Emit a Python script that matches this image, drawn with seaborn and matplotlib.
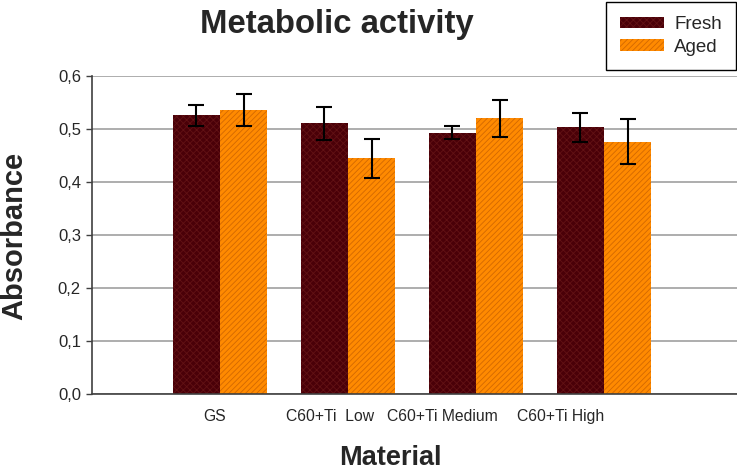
import matplotlib
matplotlib.use("Agg")
import matplotlib.pyplot as plt
import matplotlib.patches as mpatches
import seaborn as sns
import pandas as pd
import numpy as np

materials = ["GS", "C60+Ti  Low", "C60+Ti Medium", "C60+Ti High"]
conditions = ["Fresh", "Aged"]
fresh_vals = [0.526, 0.511, 0.493, 0.503]
aged_vals = [0.536, 0.445, 0.520, 0.476]
fresh_err = [0.020, 0.031, 0.012, 0.028]
aged_err = [0.030, 0.037, 0.035, 0.042]
yticks = [0.0, 0.1, 0.2, 0.3, 0.4, 0.5, 0.6]
label_offsets = [-0.04, -0.14, -0.26, -0.34]

sns.set_style("white")
plt.rcParams['font.family'] = ['Liberation Sans', 'DejaVu Sans']
plt.rcParams['hatch.linewidth'] = 0.6

df = pd.DataFrame({
    "Material": materials * 2,
    "Condition": ["Fresh"] * 4 + ["Aged"] * 4,
    "Absorbance": fresh_vals + aged_vals,
})

fig = plt.figure(figsize=(7.37, 4.71), dpi=100)
ax = fig.add_axes([92 / 737, 77 / 471, 645 / 737, 318 / 471])

colors = {"Fresh": "#4a0008", "Aged": "#ff8a00"}
sns.barplot(data=df, x="Material", y="Absorbance", hue="Condition",
            order=materials, hue_order=conditions, palette=colors,
            width=0.74, gap=0, ax=ax, legend=False, saturation=1,
            linewidth=0)

hatch_cfg = {"Fresh": ("xxxxx", "#621214"), "Aged": ("//////", "#d26800")}
errs = {"Fresh": fresh_err, "Aged": aged_err}
vals = {"Fresh": fresh_vals, "Aged": aged_vals}
for cont, cond in zip(ax.containers, conditions):
    xs = []
    for p in cont.patches:
        p.set_hatch(hatch_cfg[cond][0])
        p.set_edgecolor(hatch_cfg[cond][1])
        p.set_linewidth(0)
        xs.append(p.get_x() + p.get_width() / 2)
    ax.errorbar(xs, vals[cond], yerr=errs[cond], fmt="none", ecolor="black",
                elinewidth=1.5, capsize=5.5, capthick=1.5, zorder=5)

ax.set_xlim(-1, -1 + 645 / 128)
ax.set_ylim(0, 0.6)
ax.set_yticks(yticks)
ax.set_yticklabels([f"{t:.1f}".replace(".", ",") for t in yticks], fontsize=12)
ax.set_xticks([i + o for i, o in enumerate(label_offsets)])
ax.set_xticklabels(materials, fontsize=11.3)
ax.tick_params(axis="x", length=0, pad=11)
ax.tick_params(axis="y", length=4, width=1, color="#404040", direction="out", left=True, pad=4)
ax.yaxis.grid(True, color="#a0a0a0", linewidth=1.2)
ax.set_axisbelow(True)
for s in ["top", "right"]:
    ax.spines[s].set_visible(False)
for s in ["left", "bottom"]:
    ax.spines[s].set_color("#404040")
    ax.spines[s].set_linewidth(1.2)

ax.set_xlabel("")
ax.set_ylabel("")
fig.text(390 / 737, 1 - 458 / 471, "Material", fontsize=19.5, fontweight="bold",
         ha="center", va="center")
fig.text(14 / 737, 1 - 236 / 471, "Absorbance", fontsize=21, fontweight="bold",
         ha="center", va="center", rotation=90)
fig.text(337 / 737, 1 - 24 / 471, "Metabolic activity", fontsize=23.7, fontweight="bold",
         ha="center", va="center")

handles = [mpatches.Patch(facecolor=colors[c], edgecolor=hatch_cfg[c][1],
                          hatch=hatch_cfg[c][0], linewidth=0, label=c) for c in conditions]
leg = fig.legend(handles=handles, loc="upper right",
                 bbox_to_anchor=(736 / 737, 1 - 2 / 471),
                 fontsize=13.5, frameon=True, fancybox=False, edgecolor="black",
                 framealpha=1, handlelength=2.35, handleheight=0.6,
                 handletextpad=0.55, borderpad=0.75, labelspacing=0.3,
                 borderaxespad=0)
leg.get_frame().set_linewidth(1.0)

fig.savefig("out.png", dpi=100)
